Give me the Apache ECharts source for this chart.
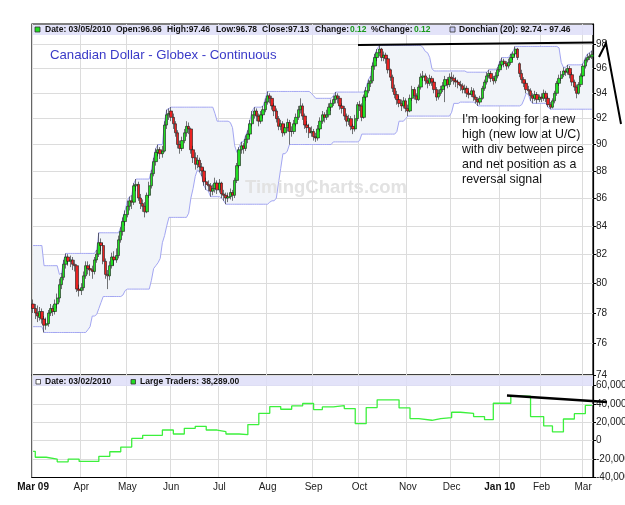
<!DOCTYPE html>
<html>
<head>
<meta charset="utf-8">
<script src="https://cdn.jsdelivr.net/npm/echarts@6/dist/echarts.min.js"></script>
<style>
  html, body { margin: 0; padding: 0; background: #fff; }
  #chart { width: 625px; height: 505px; }
</style>
</head>
<body>
<div id="chart"></div>
<script>
// trading calendar (CME closed days)
const firstDay = '2009-03-02'
const lastDay = '2010-03-05'
const holidays = ['2009-04-10', '2009-05-25', '2009-07-03', '2009-09-07', '2009-11-26',
  '2009-12-25', '2010-01-01', '2010-01-18', '2010-02-15']
const monthNames = ['Jan', 'Feb', 'Mar', 'Apr', 'May', 'Jun', 'Jul', 'Aug', 'Sep', 'Oct', 'Nov', 'Dec']

// daily bars: [open, close, low, high]
const mar09 = [[78.6,78.3,78.0,78.9],[78.3,78.0,77.6,78.6],[78.0,77.8,77.4,78.5],[77.7,78.1,77.5,78.4],[78.1,77.6,77.3,78.3],
  [77.6,77.2,76.72,77.8],[77.2,77.3,76.9,77.7],[77.3,78.0,77.1,78.2],[78.0,78.3,77.8,78.6],[78.3,78.1,77.8,78.5],
  [78.1,78.6,77.9,78.9],[78.6,79.0,78.3,79.3],[79.0,79.9,78.7,80.3],[79.9,80.4,79.6,80.7],[80.4,81.3,80.2,81.6],
  [81.3,81.8,81.0,82.05],[81.8,81.5,81.2,82.0],[81.5,81.6,81.1,81.9],[81.6,81.3,80.9,81.8],[81.3,81.2,80.8,81.6],
  [81.2,79.6,79.4,81.3],[79.6,79.5,79.1,79.9]]
const apr09 = [[79.5,79.7,79.2,80.0],[79.7,80.5,79.5,80.8],[80.5,81.2,80.3,81.5],[81.2,81.0,80.6,81.5],[81.0,80.9,80.5,81.3],
  [80.9,80.8,80.3,81.2],[80.8,81.6,80.6,81.8],[81.6,82.0,81.4,82.3],[82.0,82.8,81.8,83.5],[82.8,82.6,82.2,83.1],
  [82.6,81.5,81.3,82.8],[81.5,80.6,80.3,81.7],[80.6,80.5,79.6,80.9],[80.5,81.2,80.2,81.5],[81.2,81.8,81.0,82.1],
  [81.8,81.6,81.2,82.2],[81.6,81.9,81.4,82.4],[81.9,83.0,81.7,83.3],[83.0,83.6,82.8,83.9],[83.6,84.3,83.3,84.6],
  [84.3,84.8,84.0,85.1]]
const may09 = [[84.8,85.4,84.6,85.8],[85.4,85.8,85.1,86.1],[85.8,85.7,85.2,86.2],[85.7,86.9,85.5,87.1],[86.9,87.0,86.5,87.4],
  [87.0,86.0,85.8,87.2],[86.0,85.6,85.2,86.3],[85.6,85.4,85.0,85.9],[85.4,85.0,84.6,85.7],[85.0,86.2,84.9,86.4],
  [86.2,86.9,86.0,87.2],[86.9,87.8,86.7,88.1],[87.8,88.7,87.6,89.0],[88.7,89.4,88.4,89.7],[89.4,89.6,89.1,90.0],
  [89.6,89.3,88.9,89.8],[89.3,89.5,89.0,89.9],[89.5,91.5,89.4,91.8],[91.5,92.3,91.2,92.7],[92.3,92.4,91.9,92.8]]
const jun09 = [[92.6,92.1,91.8,92.9],[92.1,91.6,91.2,92.4],[91.6,90.9,90.6,91.8],[90.9,90.0,89.7,91.1],[90.0,89.7,89.3,90.3],
  [89.7,90.3,89.5,90.6],[90.3,90.9,90.1,91.2],[90.9,91.4,90.6,91.8],[91.4,91.2,90.8,91.7],[91.2,89.6,89.3,91.3],
  [89.6,89.0,88.6,89.9],[89.0,88.5,88.1,89.4],[88.5,88.8,88.2,89.2],[88.8,88.3,87.9,89.0],[88.3,88.0,87.6,88.6],
  [88.0,87.2,86.9,88.2],[87.2,87.0,86.6,87.5],[87.0,86.9,86.5,87.3],[86.9,86.5,86.1,87.1],[86.5,86.7,86.2,87.0],
  [86.7,87.1,86.4,87.5],[87.1,86.6,86.3,87.3]]
const jul09 = [[86.6,87.1,86.4,87.4],[87.1,86.3,86.0,87.2],[86.3,86.2,85.8,86.6],[86.2,86.0,85.55,86.4],[86.0,86.1,85.7,86.4],
  [86.1,86.4,85.9,86.7],[86.4,86.2,85.8,86.6],[86.2,87.3,86.0,87.5],[87.3,88.4,87.1,88.6],[88.4,89.6,88.2,89.8],
  [89.6,89.9,89.3,90.2],[89.9,89.7,89.3,90.1],[89.7,90.4,89.5,90.7],[90.4,90.8,90.1,91.1],[90.8,91.6,90.6,91.9],
  [91.6,92.3,91.4,92.6],[92.3,92.6,92.0,92.9],[92.6,92.2,91.8,92.8],[92.2,91.8,91.4,92.4],[91.8,92.3,91.6,92.6],
  [92.3,92.7,92.0,93.0],[92.7,93.3,92.5,93.6]]
const aug09 = [[93.3,93.8,93.1,94.15],[93.8,93.6,93.2,94.0],[93.6,93.0,92.7,93.8],[93.0,92.6,92.2,93.2],[92.6,92.0,91.7,92.8],
  [92.0,91.4,91.1,92.2],[91.4,91.6,91.1,91.9],[91.6,90.9,90.6,91.8],[90.9,91.3,90.7,91.6],[91.3,91.7,91.0,92.0],
  [91.7,91.0,90.0,91.9],[91.0,91.0,90.6,91.4],[91.0,91.6,90.8,91.9],[91.6,92.1,91.4,92.4],[92.1,92.7,91.9,93.0],
  [92.7,93.0,92.4,93.6],[93.0,92.2,91.9,93.2],[92.2,91.5,91.2,92.4],[91.5,91.3,90.9,91.8],[91.3,90.9,90.5,91.6],
  [90.9,91.0,90.6,91.4]]
const sep09 = [[91.0,90.6,90.3,91.2],[90.6,90.5,90.2,90.9],[90.5,91.2,90.3,91.5],[91.2,91.8,91.0,92.1],[91.8,92.3,91.6,92.6],
  [92.3,92.1,91.7,92.5],[92.1,92.3,91.9,92.7],[92.3,92.9,92.1,93.2],[92.9,93.2,92.6,93.5],[93.2,93.5,93.0,93.8],
  [93.5,93.8,93.2,94.1],[93.8,93.6,93.2,94.0],[93.6,93.0,92.7,93.8],[93.0,92.8,92.4,93.2],[92.8,92.2,91.9,93.0],
  [92.2,91.8,91.4,92.4],[91.8,92.0,91.5,92.3],[92.0,91.4,91.1,92.2],[91.4,91.2,90.8,91.6],[91.2,92.0,91.0,92.3],
  [92.0,93.1,91.8,93.3]]
const oct09 = [[93.1,93.0,92.6,93.4],[93.0,92.1,91.8,93.2],[92.1,93.7,92.0,93.9],[93.7,94.2,93.4,94.5],[94.2,94.8,94.0,95.1],
  [94.8,95.0,94.5,95.4],[95.0,96.2,94.8,96.5],[96.2,96.9,95.9,97.2],[96.9,97.3,96.6,97.6],[97.3,97.6,97.0,97.9],
  [97.6,96.9,96.6,97.7],[96.9,97.1,96.6,97.4],[97.1,96.8,96.4,97.3],[96.8,95.9,95.6,96.9],[95.9,95.3,95.0,96.0],
  [95.3,94.4,94.1,95.5],[94.4,93.9,93.6,94.7],[93.9,93.5,93.1,94.2],[93.5,93.2,92.9,93.8],[93.2,93.0,92.6,93.5],
  [93.0,93.4,92.8,93.7],[93.4,92.8,92.5,93.6]]
const nov09 = [[92.8,92.6,92.2,93.1],[92.6,93.6,92.5,93.9],[93.6,94.3,93.4,94.6],[94.3,93.8,93.5,94.5],[93.8,93.5,93.2,94.0],
  [93.5,94.5,93.4,94.7],[94.5,95.3,94.3,95.6],[95.3,95.4,95.0,95.8],[95.4,95.0,94.7,95.6],[95.0,94.8,94.4,95.3],
  [94.8,95.2,94.6,95.5],[95.2,94.9,94.6,95.4],[94.9,94.3,94.0,95.1],[94.3,93.7,93.4,94.5],[93.7,94.0,93.5,94.3],
  [94.0,94.3,93.8,94.6],[94.3,94.6,94.1,94.9],[94.6,95.1,93.3,95.4],[95.1,94.7,94.4,95.3],[94.7,95.3,94.5,95.6]]
const dec09 = [[95.3,95.2,94.9,95.7],[95.2,95.0,94.7,95.5],[95.0,94.9,94.5,95.3],[94.9,94.7,94.4,95.1],[94.7,94.6,94.2,95.0],
  [94.6,94.3,94.0,94.8],[94.3,94.4,94.0,94.7],[94.4,94.0,93.7,94.6],[94.0,93.9,93.6,94.2],[93.9,94.2,93.7,94.5],
  [94.2,93.7,93.4,94.4],[93.7,93.5,93.2,93.9],[93.5,93.3,93.0,93.7],[93.3,93.6,93.1,93.8],[93.6,94.4,93.5,94.6],
  [94.4,94.9,94.2,95.1],[94.9,95.4,94.7,95.7],[95.4,95.6,95.2,95.9],[95.6,95.2,94.9,95.8],[95.2,95.0,94.7,95.4],
  [95.0,95.4,94.8,95.7],[95.4,95.9,95.2,96.1]]
const jan10 = [[95.9,96.3,95.7,96.6],[96.3,96.6,96.1,96.9],[96.6,96.4,96.1,96.8],[96.4,96.2,95.9,96.6],[96.2,96.5,96.0,96.8],
  [96.5,96.9,96.3,97.2],[96.9,97.2,96.7,97.4],[97.2,97.6,97.0,97.82],[97.6,96.9,96.7,97.7],[96.4,95.6,95.3,96.5],
  [95.6,95.1,94.8,95.9],[95.1,94.8,94.5,95.3],[94.8,94.3,94.0,95.0],[94.3,94.2,93.9,94.6],[94.2,93.8,93.4,94.4],
  [93.8,93.6,93.2,94.0],[93.6,93.9,93.4,94.2],[93.9,93.5,93.2,94.1],[93.5,93.7,93.3,93.9]]
const feb10 = [[93.7,93.6,93.3,94.0],[93.6,94.0,93.4,94.3],[94.0,93.6,93.3,94.2],[93.6,93.1,92.9,93.8],[93.1,92.9,92.74,93.3],
  [92.9,93.4,92.8,93.6],[93.4,94.0,93.2,94.2],[94.0,94.8,93.8,95.0],[94.8,95.2,94.6,95.5],[95.2,95.5,95.0,95.8],
  [95.5,95.8,95.3,96.1],[95.8,95.7,95.4,96.0],[95.7,96.0,95.5,96.3],[96.0,95.5,95.2,96.2],[95.5,94.9,94.6,95.7],
  [94.9,94.5,94.2,95.1],[94.5,94.0,93.6,94.7],[94.0,94.7,93.9,94.9],[94.7,95.4,94.5,95.6]]
const mar10 = [[95.4,96.2,95.3,96.4],[96.2,96.7,96.0,96.9],[96.7,96.9,96.5,97.2],[96.9,97.01,96.7,97.3],[96.96,97.13,96.78,97.46]]

// highs / lows of the 19 sessions before the first bar (feed the Donchian window)
const priorHighs = [81.8, 82.0, 82.2, 82.4, 82.6, 81.0, 80.9, 80.8, 81.0, 80.7, 80.9, 81.2, 80.6, 80.1, 79.8, 79.6, 79.4, 79.3, 79.0]
const priorLows = [80.5, 80.6, 80.9, 81.0, 80.4, 79.9, 79.6, 79.5, 79.3, 79.0, 79.2, 79.4, 78.9, 78.5, 78.3, 77.9, 77.6, 77.1, 77.4]

// Large Traders net position (weekly): session index where value starts, value
const cotIndex = [0, 1, 6, 11, 16, 21, 30, 35, 40, 45, 50, 59, 64, 69, 74, 79, 84, 88, 94, 98, 103, 108, 113, 118, 123,
  128, 132, 137, 142, 147, 152, 157, 167, 172, 176, 182, 186, 191, 195, 201, 206, 210, 218, 227, 233, 237, 242, 247, 252]
const cotValue = [-11600, -18000, -20000, -23000, -20000, -22500, -17000, -12000, -6900, 2500, 5800, 11600, 7300, 13400,
  15600, 11600, 9800, 7300, 6500, 17500, 29800, 37100, 34200, 37800, 40400, 33800, 36700, 38200, 34900, 18500, 36000,
  44400, 35600, 24000, 22200, 24000, 25100, 30900, 29800, 26200, 22900, 40700, 48400, 26200, 16000, 9500, 23600, 29400, 38289]

const priceTicks = [74, 76, 78, 80, 82, 84, 86, 88, 90, 92, 94, 96, 98]
const traderTicks = [-40000, -20000, 0, 20000, 40000, 60000]

function tradingDays() {
  const out = []
  const d = new Date(firstDay + 'T00:00:00Z')
  const end = new Date(lastDay + 'T00:00:00Z')
  while (d <= end) {
    const s = d.toISOString().slice(0, 10)
    const wd = d.getUTCDay()
    if (wd !== 0 && wd !== 6 && !holidays.includes(s)) out.push(s)
    d.setUTCDate(d.getUTCDate() + 1)
  }
  return out
}

const bars = [].concat(mar09, apr09, may09, jun09, jul09, aug09, sep09, oct09, nov09, dec09, jan10, feb10, mar10)
const dates = tradingDays().slice(0, bars.length)
const monthStart = new Set(dates.map((s, i) => (i === 0 || s.slice(5, 7) !== dates[i - 1].slice(5, 7)) ? i : -1))

// Donchian (20)
const allHighs = priorHighs.concat(bars.map(b => b[3]))
const allLows = priorLows.concat(bars.map(b => b[2]))
const upper = [], lower = []
bars.forEach((b, i) => {
  const hs = allHighs.slice(i, i + 20), ls = allLows.slice(i, i + 20)
  upper.push(Math.max(...hs))
  lower.push(Math.min(...ls))
})

const ln = Math.log
const candleData = bars.map(b => b.map(v => ln(v)))
const lowerLn = lower.map(v => ln(v))
const bandLn = upper.map((v, i) => ln(v) - ln(lower[i]))
const traderData = cotIndex.map((k, j) => [dates[k], cotValue[j]])
traderData.push([dates[dates.length - 1], cotValue[cotValue.length - 1]])

const font = '"Liberation Sans", Arial, sans-serif'
const gridLine = { show: true, lineStyle: { color: '#dcdcdc', width: 1 } }

function monthLabel(v, i) {
  const m = +v.slice(5, 7)
  const name = monthNames[m - 1]
  if (i === 0 || m === 1) return '{b|' + name + ' ' + v.slice(2, 4) + '}'
  return name
}

function headText(x, y, text, color, weight) {
  return { type: 'text', x, y, z: 100,
    style: { text, fill: color || '#111', fontSize: 8.5, fontWeight: weight || 'bold', fontFamily: font, verticalAlign: 'middle' } }
}

const chart = echarts.init(document.getElementById('chart'))
chart.setOption({
  backgroundColor: '#fff',
  animation: false,
  grid: [
    { left: 32, right: 32, top: 24, height: 351, show: true, borderColor: '#000', borderWidth: 1.2,
      backgroundColor: 'transparent', outerBoundsMode: 'none', containLabel: false },
    { left: 32, right: 32, top: 375, height: 102.5, show: true, borderColor: '#000', borderWidth: 1.2,
      backgroundColor: 'transparent', outerBoundsMode: 'none', containLabel: false }
  ],
  xAxis: [
    { gridIndex: 0, type: 'category', data: dates, boundaryGap: true,
      axisLine: { show: false }, axisTick: { show: false }, axisLabel: { show: false },
      splitLine: { show: true, interval: i => monthStart.has(i), lineStyle: { color: '#dcdcdc' } } },
    { gridIndex: 1, type: 'category', data: dates, boundaryGap: true,
      axisLine: { show: true, onZero: false, lineStyle: { color: '#000', width: 1.2 } }, axisTick: { show: false },
      axisLabel: { interval: i => monthStart.has(i), formatter: monthLabel, fontSize: 10, color: '#222', fontFamily: font, margin: 5,
        rich: { b: { fontWeight: 'bold', fontSize: 10, color: '#111', fontFamily: font } } },
      splitLine: { show: true, interval: i => monthStart.has(i), lineStyle: { color: '#dcdcdc' } } }
  ],
  yAxis: [
    { gridIndex: 0, type: 'value', position: 'right', min: ln(74), max: ln(99.7), scale: true,
      axisLine: { show: true, lineStyle: { color: '#000', width: 1.2 } },
      axisTick: { show: true, length: 3, lineStyle: { color: '#000' }, customValues: priceTicks.map(v => ln(v)) },
      axisLabel: { customValues: priceTicks.map(v => ln(v)), formatter: v => String(Math.round(Math.exp(v))),
        fontSize: 10, color: '#222', fontFamily: font, margin: 3 },
      splitLine: gridLine },
    { gridIndex: 1, type: 'value', position: 'right', min: -40000, max: 71400,
      axisLine: { show: true, lineStyle: { color: '#000', width: 1.2 } },
      axisTick: { show: true, length: 3, lineStyle: { color: '#000' }, customValues: traderTicks },
      axisLabel: { customValues: traderTicks, formatter: v => v.toLocaleString('en-US'),
        fontSize: 10, color: '#222', fontFamily: font, margin: 3 },
      splitLine: gridLine }
  ],
  series: [
    { type: 'line', xAxisIndex: 0, yAxisIndex: 0, stack: 'dc', data: lowerLn, symbol: 'none', z: 1,
      lineStyle: { color: '#a3a6f2', width: 1 } },
    { type: 'line', xAxisIndex: 0, yAxisIndex: 0, stack: 'dc', data: bandLn, symbol: 'none', z: 1,
      lineStyle: { color: '#a3a6f2', width: 1 }, areaStyle: { color: '#f1f4f9', opacity: 1 } },
    { type: 'candlestick', xAxisIndex: 0, yAxisIndex: 0, data: candleData, barWidth: 2.9, z: 3,
      itemStyle: { color: '#22e022', color0: '#ea2222', borderColor: '#1a1a1a', borderColor0: '#1a1a1a', borderWidth: 0.6 } },
    { type: 'line', xAxisIndex: 1, yAxisIndex: 1, data: traderData, step: 'end', symbol: 'none', z: 3,
      lineStyle: { color: '#3cf03c', width: 1.3 } }
  ],
  graphic: [
    // header bars
    { type: 'rect', z: 90, shape: { x: 33, y: 25, width: 560, height: 10 }, style: { fill: 'rgba(222,222,248,0.85)' } },
    { type: 'rect', z: 90, shape: { x: 33, y: 376, width: 560, height: 10 }, style: { fill: 'rgba(222,222,248,0.85)' } },
    { type: 'rect', z: 100, shape: { x: 35, y: 27, width: 5, height: 5 }, style: { fill: '#22dd22', stroke: '#333', lineWidth: 0.8 } },
    headText(45, 30, 'Date: 03/05/2010'),
    headText(116, 30, 'Open:96.96'),
    headText(167, 30, 'High:97.46'),
    headText(216, 30, 'Low:96.78'),
    headText(262, 30, 'Close:97.13'),
    headText(315, 30, 'Change:'),
    headText(350, 30, '0.12', '#1a9a1a'),
    headText(371, 30, '%Change:'),
    headText(414, 30, '0.12', '#1a9a1a'),
    { type: 'rect', z: 100, shape: { x: 450, y: 27, width: 5, height: 5 }, style: { fill: '#c6c8f2', stroke: '#333', lineWidth: 0.8 } },
    headText(459, 30, 'Donchian (20): 92.74 - 97.46'),
    { type: 'rect', z: 100, shape: { x: 36, y: 379.5, width: 4.5, height: 4.5 }, style: { fill: '#fff', stroke: '#333', lineWidth: 0.8 } },
    headText(45, 382, 'Date: 03/02/2010'),
    { type: 'rect', z: 100, shape: { x: 131, y: 379.5, width: 4.5, height: 4.5 }, style: { fill: '#22dd22', stroke: '#333', lineWidth: 0.8 } },
    headText(140, 382, 'Large Traders: 38,289.00'),
    // title, watermark, note
    { type: 'text', x: 50, y: 55, z: 100,
      style: { text: 'Canadian Dollar - Globex - Continuous', fill: '#3a3ac8', fontSize: 13.2, fontFamily: font, verticalAlign: 'middle' } },
    { type: 'text', x: 245, y: 188, z: 2,
      style: { text: 'TimingCharts.com', fill: '#e2e2e2', fontSize: 18.5, fontWeight: 'bold', fontFamily: font, verticalAlign: 'middle' } },
    { type: 'text', x: 462, y: 112.5, z: 100,
      style: { text: "I'm looking for a new\nhigh (new low at U/C)\nwith div between pirce\nand net position as a\nreversal signal",
        fill: '#111', fontSize: 12.4, lineHeight: 14.8, fontFamily: font, verticalAlign: 'top' } },
    // hand-drawn trend lines
    { type: 'polyline', z: 110, shape: { points: [[358, 45], [594, 42.5]] }, style: { stroke: '#000', lineWidth: 2.2, fill: null } },
    { type: 'polyline', z: 110, shape: { points: [[599, 57], [606, 43], [621, 124]] }, style: { stroke: '#000', lineWidth: 2, fill: null } },
    { type: 'polyline', z: 110, shape: { points: [[507, 395.5], [607, 402]] }, style: { stroke: '#000', lineWidth: 2.6, fill: null } }
  ]
})
</script>
</body>
</html>
